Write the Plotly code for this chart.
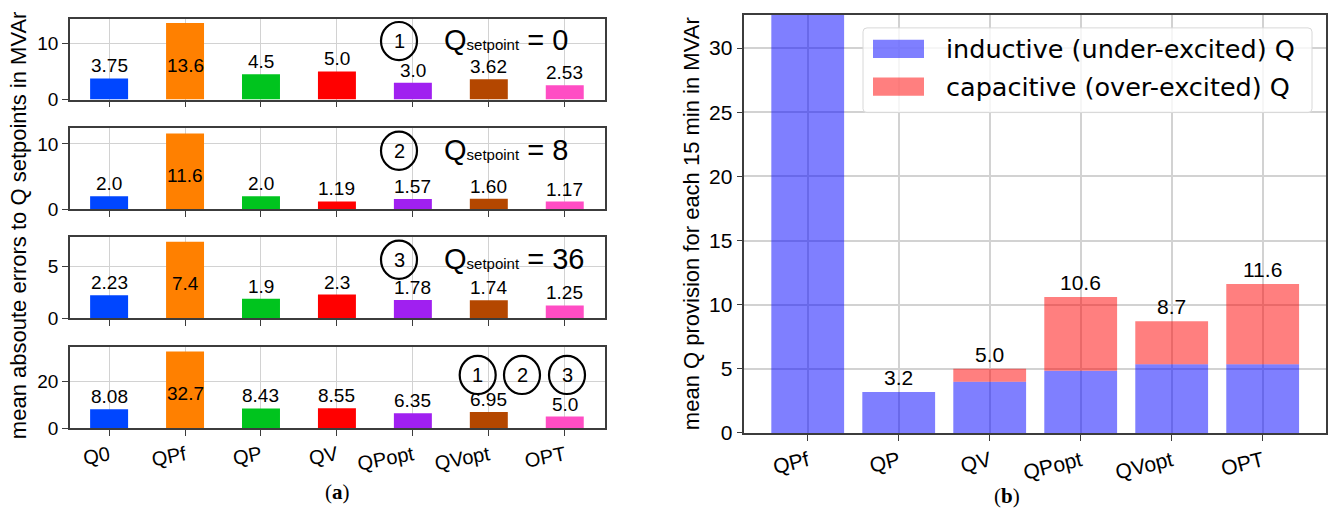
import plotly.graph_objects as go

W, H = 1328, 521

# ---- data -------------------------------------------------------------
methods = ["Q0", "QPf", "QP", "QV", "QPopt", "QVopt", "OPT"]
method_colors = ["#0046ff", "#ff8000", "#00c41e", "#ff0000", "#a020f0", "#b44700", "#ff4dc4"]

# mean absolute errors to the Q setpoint (MVAr), one list per setpoint case
err_sp0 = ["3.75", "13.6", "4.5", "5.0", "3.0", "3.62", "2.53"]
err_sp8 = ["2.0", "11.6", "2.0", "1.19", "1.57", "1.60", "1.17"]
err_sp36 = ["2.23", "7.4", "1.9", "2.3", "1.78", "1.74", "1.25"]
err_all = ["8.08", "32.7", "8.43", "8.55", "6.35", "6.95", "5.0"]
setpoints = ["0", "8", "36"]

# mean Q provision per 15 min (MVAr)
prov_methods = ["QPf", "QP", "QV", "QPopt", "QVopt", "OPT"]
q_inductive = [36.0, 3.2, 4.0, 4.85, 5.35, 5.35]
q_capacitive = [0.0, 0.0, 1.0, 5.75, 3.35, 6.25]

# ---- layout helpers (pixel -> paper) ----------------------------------
def fx(px):
    return px / W


def fy(py):
    return 1 - py / H


ARIAL = "Liberation Sans, Arial, sans-serif"
FRAME = "#3c3c3c"
GRID = "#d2d2d2"

left_x = (70, 605)
rows = [(19, 101.7), (131, 213.7), (242.3, 325.3), (354.7, 437.5)]
row_ymax = [14.4, 12.4, 7.83, 34.5]
row_ticks = [[0, 10], [0, 10], [0, 5], [0, 20]]
right_x = (744.3, 1326)
right_y = (15, 442.3)
right_ymax = 32.6

fig = go.Figure()
annotations = []
shapes = []


def paper_text(px, py, text, size, family=ARIAL, xanchor="center", yanchor="middle", angle=0, pad=1):
    annotations.append(dict(x=fx(px), y=fy(py), xref="paper", yref="paper", text=text,
                            showarrow=False, xanchor=xanchor, yanchor=yanchor, textangle=angle,
                            borderpad=pad, font=dict(family=family, size=size, color="#000")))


panels = [err_sp0, err_sp8, err_sp36, err_all]
for k, vals in enumerate(panels):
    n = k + 1
    xa = "x" if n == 1 else f"x{n}"
    ya = "y" if n == 1 else f"y{n}"
    yv = [float(s) for s in vals]
    fig.add_trace(go.Bar(x=methods, y=yv, marker=dict(color=method_colors, line=dict(width=0)),
                         width=0.5, xaxis=xa, yaxis=ya, showlegend=False, hoverinfo="x+y"))
    top, bot = rows[k]
    fig.layout[f"xaxis{'' if n == 1 else n}"] = dict(
        domain=[fx(left_x[0]), fx(left_x[1])], anchor=ya, type="category",
        categoryorder="array", categoryarray=methods, range=[-0.515, 6.53],
        showline=True, mirror=True, linecolor=FRAME, linewidth=1.5,
        ticks="outside", ticklen=6, tickcolor=FRAME, showgrid=True, gridcolor=GRID, gridwidth=1,
        showticklabels=(n == 4), tickangle=-11, tickfont=dict(family=ARIAL, size=20, color="#000"),
        zeroline=False,
    )
    fig.layout[f"yaxis{'' if n == 1 else n}"] = dict(
        domain=[fy(bot), fy(top)], anchor=xa, range=[0, row_ymax[k]],
        tickvals=row_ticks[k], showline=True, mirror=True, linecolor=FRAME, linewidth=1.5,
        ticks="outside", ticklen=6, tickcolor=FRAME, showgrid=True, gridcolor=GRID, gridwidth=1,
        tickfont=dict(family=ARIAL, size=19, color="#000"), zeroline=False,
    )
    for m, v, s in zip(methods, yv, vals):
        if v > 0.6 * row_ymax[k]:
            annotations.append(dict(x=m, y=v * 0.45, xref=xa, yref=ya, text=s, showarrow=False,
                                    xanchor="center", yanchor="middle",
                                    font=dict(family=ARIAL, size=19, color="#000")))
        else:
            annotations.append(dict(x=m, y=v, xref=xa, yref=ya, text=s, showarrow=False,
                                    xanchor="center", yanchor="bottom", yshift=0,
                                    font=dict(family=ARIAL, size=19, color="#000")))


def circled(cx, cy, label):
    shapes.append(dict(type="circle", xref="paper", yref="paper",
                       x0=fx(cx - 18), x1=fx(cx + 18), y0=fy(cy + 19.5), y1=fy(cy - 19.5),
                       line=dict(color="#000", width=2.2)))
    paper_text(cx, cy, label, 20)


# setpoint markers on the first three rows
for k, sp in enumerate(setpoints):
    top, bot = rows[k]
    cy = top + 23
    circled(399, cy, str(k + 1))
    paper_text(443, cy - 1, "Q<span style='font-size:15px'>setpoint</span> = " + sp, 29,
               xanchor="left", pad=0)

# the three circled markers on the summed row
for cx, lab in zip([477.7, 522, 567], ["1", "2", "3"]):
    circled(cx, 383, lab)

# left y title
paper_text(18, 230, "mean absoute errors to Q setpoints in MVAr", 22, angle=-90)

# ---- right panel: stacked provision bars ------------------------------
fig.add_trace(go.Bar(x=prov_methods, y=q_inductive, name="inductive (under-excited) Q",
                     marker=dict(color="rgba(0,0,255,0.5)", line=dict(width=0)), width=0.8,
                     xaxis="x5", yaxis="y5", showlegend=False))
fig.add_trace(go.Bar(x=prov_methods, y=q_capacitive, base=q_inductive, name="capacitive (over-excited) Q",
                     marker=dict(color="rgba(255,0,0,0.5)", line=dict(width=0)), width=0.8,
                     xaxis="x5", yaxis="y5", showlegend=False))
fig.update_layout(
    xaxis5=dict(domain=[fx(right_x[0]), fx(right_x[1])], anchor="y5", type="category",
                categoryorder="array", categoryarray=prov_methods, range=[-0.697, 5.696],
                showline=True, mirror=True, linecolor=FRAME, linewidth=1.5,
                ticks="outside", ticklen=6, tickcolor=FRAME, showgrid=True, gridcolor=GRID, gridwidth=1.5,
                tickangle=-14, tickfont=dict(family=ARIAL, size=21, color="#000"), zeroline=False),
    yaxis5=dict(domain=[fy(right_y[1]), fy(right_y[0])], anchor="x5", range=[0, right_ymax],
                tickvals=[0, 5, 10, 15, 20, 25, 30], showline=True, mirror=True, linecolor=FRAME,
                linewidth=1.5, ticks="outside", ticklen=6, tickcolor=FRAME, showgrid=True,
                gridcolor=GRID, gridwidth=1.5, tickfont=dict(family=ARIAL, size=21, color="#000"),
                zeroline=False),
    barmode="overlay",
)
for m, a, b in zip(prov_methods, q_inductive, q_capacitive):
    tot = a + b
    if tot < right_ymax:
        annotations.append(dict(x=m, y=tot, xref="x5", yref="y5", text=f"{tot:.1f}", showarrow=False,
                                xanchor="center", yanchor="bottom", yshift=1,
                                font=dict(family=ARIAL, size=21, color="#000")))

paper_text(691, 229, "mean Q provision for each 15 min in MVAr", 22, angle=-90)

# legend box drawn by hand so the swatches keep their wide shape
lx0, ly0, lx1, ly1, r = 863, 28.5, 1312, 115, 4
legend_path = (f"M {fx(lx0 + r)},{fy(ly0)} L {fx(lx1 - r)},{fy(ly0)} "
               f"Q {fx(lx1)},{fy(ly0)} {fx(lx1)},{fy(ly0 + r)} L {fx(lx1)},{fy(ly1 - r)} "
               f"Q {fx(lx1)},{fy(ly1)} {fx(lx1 - r)},{fy(ly1)} L {fx(lx0 + r)},{fy(ly1)} "
               f"Q {fx(lx0)},{fy(ly1)} {fx(lx0)},{fy(ly1 - r)} L {fx(lx0)},{fy(ly0 + r)} "
               f"Q {fx(lx0)},{fy(ly0)} {fx(lx0 + r)},{fy(ly0)} Z")
shapes.append(dict(type="path", path=legend_path, xref="paper", yref="paper",
                   fillcolor="rgba(255,255,255,0.8)", line=dict(color="#d8d8d8", width=1), layer="above"))
legend_items = [("inductive (under-excited) Q", "rgba(0,0,255,0.5)", 50),
                ("capacitive (over-excited) Q", "rgba(255,0,0,0.5)", 88.5)]
for txt, col, cy in legend_items:
    shapes.append(dict(type="rect", xref="paper", yref="paper", x0=fx(873), x1=fx(924),
                       y0=fy(cy + 9.3), y1=fy(cy - 9.3), fillcolor=col, line=dict(width=0), layer="above"))
    paper_text(944, cy, txt, 25.5, family="DejaVu Sans, sans-serif", xanchor="left")

# sub-figure captions
paper_text(337, 503, "(<b>a</b>)", 21, family="Liberation Serif, serif")
paper_text(1007, 507, "(<b>b</b>)", 21, family="Liberation Serif, serif")

fig.update_layout(
    width=W, height=H, margin=dict(l=0, r=0, t=0, b=0),
    paper_bgcolor="white", plot_bgcolor="white",
    annotations=annotations, shapes=shapes, showlegend=False,
    font=dict(family=ARIAL, color="#000"),
)

fig.write_html("out.html")
